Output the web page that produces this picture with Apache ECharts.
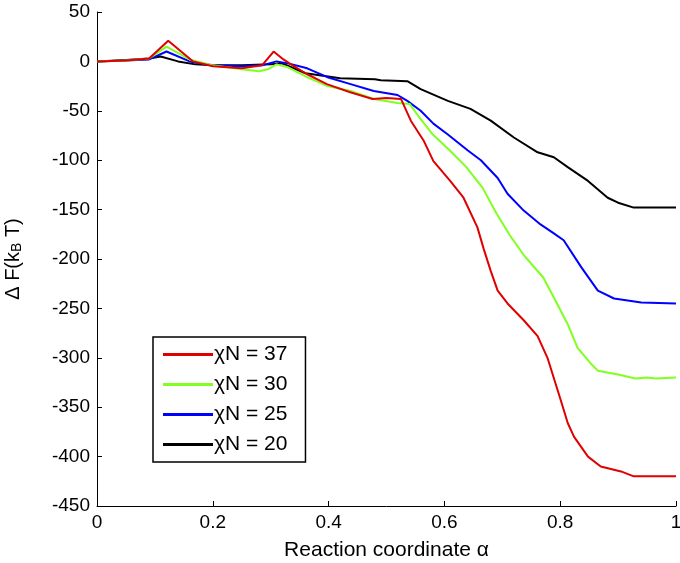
<!DOCTYPE html>
<html>
<head>
<meta charset="utf-8">
<script src="https://cdn.jsdelivr.net/npm/echarts@6/dist/echarts.min.js"></script>
<style>
  html,body{margin:0;padding:0;background:#fff;}
  #chart{width:680px;height:563px;}
</style>
</head>
<body>
<div id="chart"></div>
<script>
// reaction coordinate alpha vs free energy change, one list per chi*N
var seriesNames = ['χN = 37', 'χN = 30', 'χN = 25', 'χN = 20'];
var seriesColors = ['#e00000', '#80ff20', '#0000ff', '#000000'];

var chi37 = [[0,0],[0.05,1],[0.09,3],[0.123,21],[0.166,0],[0.2,-5],[0.25,-7],[0.285,-4],[0.305,10],[0.322,2],
  [0.335,-3],[0.363,-13],[0.397,-23],[0.436,-31],[0.476,-38],[0.5,-37],[0.525,-38],[0.542,-60],[0.564,-80],
  [0.581,-101],[0.61,-121],[0.633,-138],[0.657,-168],[0.668,-190],[0.68,-212],[0.692,-232],[0.709,-245],
  [0.737,-262],[0.761,-278],[0.778,-300],[0.801,-343],[0.813,-366],[0.824,-380],[0.848,-400],[0.87,-410],
  [0.905,-415],[0.927,-420],[1,-420]];
var chi30 = [[0,0],[0.05,1],[0.09,3],[0.12,15],[0.16,2],[0.2,-4],[0.25,-8],[0.28,-10],[0.295,-8],[0.31,-3],
  [0.33,-6],[0.363,-16],[0.398,-25],[0.438,-30],[0.478,-38],[0.519,-42],[0.54,-43],[0.557,-57],[0.58,-74],
  [0.609,-90],[0.638,-107],[0.666,-128],[0.69,-154],[0.713,-176],[0.737,-196],[0.771,-219],[0.789,-239],
  [0.813,-266],[0.83,-290],[0.853,-306],[0.865,-313],[0.9,-317],[0.93,-321],[0.95,-320],[0.965,-321],[1,-320]];
var chi25 = [[0,0],[0.05,1],[0.09,2],[0.12,10],[0.16,0],[0.2,-4],[0.25,-5],[0.285,-4],[0.31,0],[0.33,-2],
  [0.363,-7],[0.398,-16],[0.438,-23],[0.478,-30],[0.519,-34],[0.536,-40],[0.559,-50],[0.581,-63],[0.606,-74],
  [0.64,-90],[0.663,-100],[0.692,-118],[0.709,-134],[0.737,-151],[0.766,-165],[0.789,-174],[0.806,-181],
  [0.836,-208],[0.865,-232],[0.893,-240],[0.94,-244],[1,-245]];
var chi20 = [[0,0],[0.05,1.5],[0.09,3],[0.11,5],[0.14,0],[0.17,-3],[0.2,-4],[0.25,-4],[0.3,-3],[0.32,-2],
  [0.36,-12],[0.42,-17],[0.48,-18],[0.49,-19],[0.536,-20],[0.559,-28],[0.606,-40],[0.645,-48],[0.68,-60],
  [0.72,-77],[0.761,-92],[0.789,-97],[0.813,-107],[0.848,-121],[0.882,-138],[0.9,-143],[0.927,-148],[1,-148]];
var allData = [chi37, chi30, chi25, chi20];

var font = 'Liberation Sans, Arial, sans-serif';
var chart = echarts.init(document.getElementById('chart'));

chart.setOption({
  animation: false,
  backgroundColor: '#fff',
  grid: { left: 97, right: 4, top: 12, bottom: 57, containLabel: false, outerBoundsMode: 'none' },
  legend: {
    data: seriesNames,
    orient: 'vertical',
    left: 153,
    top: 337,
    icon: 'rect',
    itemWidth: 50,
    itemHeight: 3,
    itemGap: 9,
    padding: [7, 18, 7, 10],
    borderColor: '#000',
    borderWidth: 1.5,
    textStyle: { color: '#000', fontSize: 21, fontFamily: font, padding: [0, 0, 0, -4] }
  },
  xAxis: {
    type: 'value',
    min: 0, max: 1, interval: 0.2,
    name: 'Reaction coordinate α',
    nameLocation: 'middle',
    nameGap: 34,
    nameTextStyle: { color: '#000', fontSize: 21, fontFamily: font },
    axisLine: { onZero: false, lineStyle: { color: '#000', width: 1 } },
    axisTick: { inside: true, length: 5, lineStyle: { color: '#000' } },
    axisLabel: { color: '#000', fontSize: 19, fontFamily: font, margin: 7 },
    splitLine: { show: false }
  },
  yAxis: {
    type: 'value',
    min: -450, max: 50, interval: 50,
    name: 'Δ F(k{sub|B} T)',
    nameLocation: 'middle',
    nameGap: 73,
    nameTextStyle: {
      color: '#000', fontSize: 20, fontFamily: font,
      rich: { sub: { fontSize: 14, fontFamily: font, color: '#000', verticalAlign: 'bottom', padding: [8, 0, 0, 0] } }
    },
    axisLine: { show: true, onZero: false, lineStyle: { color: '#000', width: 1 } },
    axisTick: { show: true, inside: true, length: 5, lineStyle: { color: '#000' } },
    axisLabel: { color: '#000', fontSize: 19, fontFamily: font, margin: 7 },
    splitLine: { show: false }
  },
  series: seriesNames.map(function (name, i) {
    return {
      name: name,
      type: 'line',
      data: allData[i],
      showSymbol: false,
      symbol: 'none',
      color: seriesColors[i],
      lineStyle: { width: 2, color: seriesColors[i] },
      z: 10 - i
    };
  })
});
</script>
</body>
</html>
